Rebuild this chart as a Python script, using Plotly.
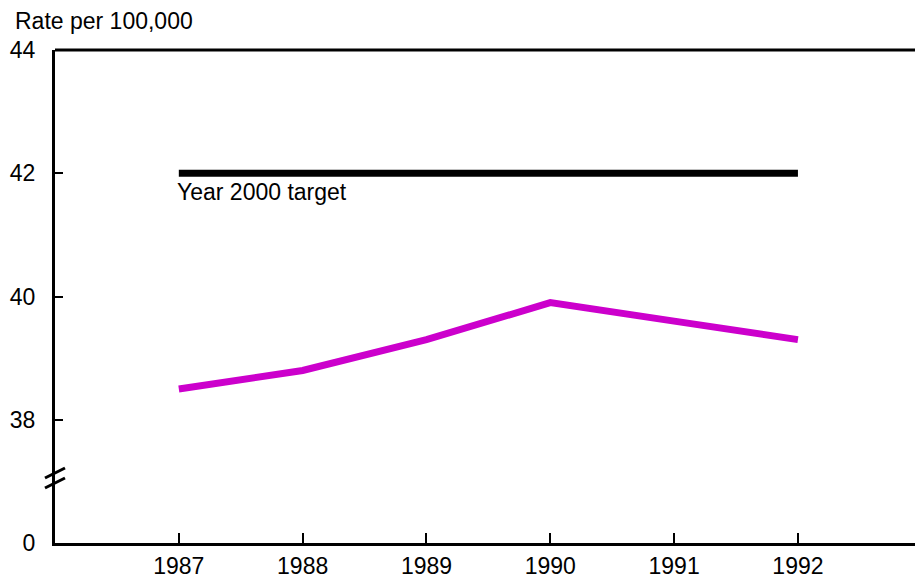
import plotly.graph_objects as go

# Rate per 100,000, with a broken y axis (bottom tick "0")
years = [1987, 1988, 1989, 1990, 1991, 1992]
rate = [38.5, 38.8, 39.3, 39.9, 39.6, 39.3]
target_years = [1987, 1992]
target_rate = [42, 42]

y_tick_vals = [36, 38, 40, 42, 44]
y_tick_text = ["0", "38", "40", "42", "44"]

FONT = "Liberation Sans, Arial, sans-serif"
FS = 23

fig = go.Figure()

fig.add_trace(go.Scatter(
    x=target_years, y=target_rate, mode="lines",
    line=dict(color="#000000", width=7),
    showlegend=False, hoverinfo="skip",
))
fig.add_trace(go.Scatter(
    x=years, y=rate, mode="lines",
    line=dict(color="#cc00cc", width=7),
    showlegend=False,
))

# plot area size in px
w = 868.0
h = 493.0

fig.add_annotation(
    x=1987, y=42, xref="x", yref="y",
    text="Year 2000 target", showarrow=False,
    xanchor="left", yanchor="top", xshift=-4, yshift=-4,
    font=dict(family=FONT, size=FS, color="#000000"),
)
fig.add_annotation(
    x=-42 / w, y=1, xref="paper", yref="paper",
    text="Rate per 100,000", showarrow=False,
    xanchor="left", yanchor="middle", yshift=29,
    font=dict(family=FONT, size=FS, color="#000000"),
)

# top border line
fig.add_shape(type="line", xref="paper", yref="paper",
              x0=0, x1=1, y0=1, y1=1,
              line=dict(color="#000000", width=3))

# axis break marks
for dy in (0.0, 10.0):
    fig.add_shape(type="line", xref="paper", yref="paper",
                  x0=-10 / w, x1=10 / w,
                  y0=(55 + dy) / h, y1=(65 + dy) / h,
                  line=dict(color="#000000", width=3))

# plot spills past the right edge of the window, like the original
fig.update_layout(
    width=923, height=577,
    margin=dict(l=55, r=0, t=50, b=34),
    paper_bgcolor="white", plot_bgcolor="white",
    font=dict(family=FONT, size=FS, color="#000000"),
)
fig.update_xaxes(
    range=[1986, 1993.01], tickvals=years,
    ticks="inside", ticklen=10, tickwidth=2, tickcolor="#000000",
    showline=True, linecolor="#000000", linewidth=3,
    showgrid=False, zeroline=False,
    automargin=False,
    tickfont=dict(family=FONT, size=FS),
)
fig.update_yaxes(
    range=[36, 44], tickvals=y_tick_vals, ticktext=y_tick_text,
    ticks="inside", ticklen=8, tickwidth=2, tickcolor="#000000",
    showline=True, linecolor="#000000", linewidth=3,
    showgrid=False, zeroline=False, ticklabelstandoff=12,
    automargin=False,
    tickfont=dict(family=FONT, size=FS),
)

fig.write_html(
    "out.html",
    config={"displayModeBar": False},
    post_script="document.body.style.margin='0';document.body.style.overflow='hidden';",
)
